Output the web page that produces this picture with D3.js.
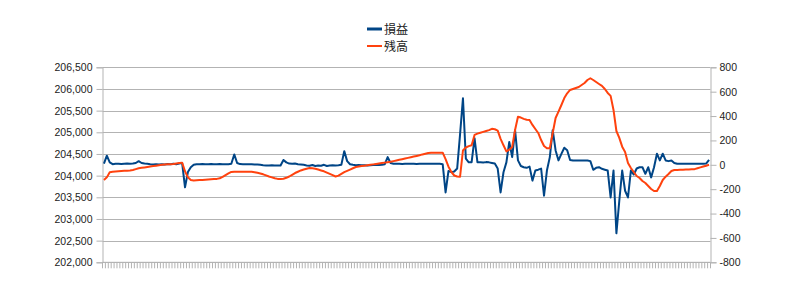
<!DOCTYPE html>
<html>
<head>
<meta charset="utf-8">
<script src="https://cdn.jsdelivr.net/npm/d3@7"></script>
<style>
  body { margin: 0; background: #fff; }
  svg text { font-family: "Liberation Sans", Arial, sans-serif; }
</style>
</head>
<body>
<div id="chart"></div>
<script>
// 残高 (left axis)
const balance = [
  203900, 203960, 204080, 204090, 204095, 204100, 204105, 204110, 204115, 204120, 204130, 204150, 204170, 204180,
  204190, 204200, 204210, 204220, 204230, 204240, 204250, 204255, 204260, 204265, 204270, 204280, 204290, 204300,
  204100, 203960, 203900, 203890, 203895, 203900, 203900, 203905, 203910, 203915, 203920, 203925,
  203940, 203970, 204010, 204050, 204085, 204091, 204091, 204092, 204090, 204092, 204091, 204090,
  204080, 204065, 204050, 204030, 204005, 203980, 203960, 203940, 203925, 203920, 203930,
  203950, 203980, 204020, 204060, 204090, 204120, 204140, 204160, 204175, 204170,
  204160, 204140, 204120, 204100, 204070, 204040, 204010, 203980, 204000, 204040, 204080, 204110, 204140, 204170, 204200,
  204210, 204220, 204230, 204240, 204250, 204260, 204270, 204280, 204290, 204300, 204310, 204320,
  204335, 204350, 204365, 204380, 204395, 204410, 204425, 204440, 204455, 204470, 204490, 204505, 204520, 204530,
  204530, 204530, 204530, 204530,
  204380, 204206, 204084, 204003, 203980, 203976, 204580, 204650, 204680, 204700,
  204940, 204970, 204990, 205010, 205030, 205050, 205080, 205070, 205040,
  204850, 204700, 204560, 204600, 204660, 205053, 205360, 205340, 205310, 205290, 205284, 205170, 205076, 204984,
  204822, 204684, 204631, 204631, 204984, 205330,
  205476, 205630, 205790, 205900, 205977, 206000, 206023, 206046, 206092, 206138, 206207, 206247, 206207, 206160,
  206115, 206070, 206000, 205908,
  205840, 205515, 205030, 204870, 204668, 204546, 204292, 204176, 204084, 203992, 203946, 203876, 203830, 203761,
  203692, 203645, 203645, 203761, 203899, 203976, 204038, 204107, 204130,
  204130, 204135, 204135, 204140, 204140, 204145, 204150, 204170, 204190, 204210, 204230, 204250
];

// 損益 (right axis)
const profit = [
  10, 75, 20, 5, 8, 8, 6, 8, 10, 8, 10, 15, 30, 15, 10, 8, 5, 3, 5, 2, 5, 3, 6, 4, 8, 5, 10, 15,
  -185, -60, -20, 0, 5, 5, 6, 5, 4, 6, 5, 5, 6, 5, 4, 5, 8,
  85, 15, 6, 5, 4, 5, 5, 3, 2, 0, -3, -5, -5, -4, -5, -6, -5,
  40, 20, 10, 8, 10, 5, 3, 0, -5, -8, -2, -10, -5, -8, 0, -10, -6, -4, -5, -3, 0,
  112, 30, 5, 0, -3, -2, -3, -4, -5, -3, -2, 0, -2, 0, 5, 63, 15,
  8, 8, 8, 7, 8, 8, 8, 8, 7, 8, 8, 8, 8, 8, 8, 8, 8, 5,
  -227, -50, -60, -55, -31, 250, 546, 50, 20, 21, 218, 21,
  20, 18, 22, 20, 15, 10, -31, -227, -61, 20, 187, 63, 284, 36, -10, -20, -25, -15, -130, -47, -40, -31, -254, -47,
  63, 284, 118,
  36, 90, 140, 120, 40, 36, 36, 36, 35, 36, 36, 30, -41, -25, -20, -33, -40, -47,
  -268, -47, -562, -295, -47, -213, -268, -47, -80, -30, -20, -20, -74, -20, -103, -20, 91, 36, 91, 36, 30, 36, 15,
  8, 8, 8, 8, 8, 8, 8, 8, 8, 8, 10, 40
];

const leftTicks = [202000, 202500, 203000, 203500, 204000, 204500, 205000, 205500, 206000, 206500];
const rightTicks = [-800, -600, -400, -200, 0, 200, 400, 600, 800];
const seriesNames = ['損益', '残高'];
const colors = ['#004586', '#ff420e'];

const width = 808, height = 300;
const plot = { left: 102.5, right: 710.5, top: 67.3, bottom: 262.3 };

const svg = d3.select('#chart').append('svg')
  .attr('width', width)
  .attr('height', height);

const idx = d3.range(balance.length);
const x = d3.scaleBand().domain(idx).range([plot.left, plot.right]);
const yL = d3.scaleLinear().domain([202000, 206500]).range([plot.bottom, plot.top]);
const yR = d3.scaleLinear().domain([-800, 800]).range([plot.bottom, plot.top]);

// grid
svg.append('g')
  .selectAll('line')
  .data(leftTicks)
  .join('line')
  .attr('x1', plot.left).attr('x2', plot.right)
  .attr('y1', d => Math.round(yL(d)) + 0.5).attr('y2', d => Math.round(yL(d)) + 0.5)
  .attr('stroke', '#b3b3b3');

// left axis
const axL = svg.append('g')
  .attr('transform', `translate(${plot.left},0)`)
  .call(d3.axisLeft(yL).tickValues(leftTicks).tickFormat(d3.format(',')).tickSize(6).tickPadding(4));

// right axis
const axR = svg.append('g')
  .attr('transform', `translate(${plot.right},0)`)
  .call(d3.axisRight(yR).tickValues(rightTicks).tickFormat(d => String(d)).tickSize(6).tickPadding(3));

[axL, axR].forEach(g => {
  g.select('.domain').attr('stroke', '#b3b3b3');
  g.selectAll('.tick line').attr('stroke', '#b3b3b3');
  g.selectAll('.tick text')
    .attr('fill', '#222')
    .style('font-size', '10.5px')
    .style('font-family', '"Liberation Sans", Arial, sans-serif');
});

// category axis (ticks between categories, no labels)
const xAxis = svg.append('g');
xAxis.append('line')
  .attr('x1', plot.left).attr('x2', plot.right)
  .attr('y1', plot.bottom).attr('y2', plot.bottom)
  .attr('stroke', '#b3b3b3');
xAxis.selectAll('line.tk')
  .data(idx.concat([balance.length]))
  .join('line')
  .attr('class', 'tk')
  .attr('x1', d => d < balance.length ? x(d) : plot.right)
  .attr('x2', d => d < balance.length ? x(d) : plot.right)
  .attr('y1', plot.bottom).attr('y2', plot.bottom + 6)
  .attr('stroke', '#b3b3b3');

const cx = i => x(i) + x.bandwidth() / 2;

svg.append('path')
  .datum(profit)
  .attr('fill', 'none')
  .attr('stroke', colors[0])
  .attr('stroke-width', 2)
  .attr('stroke-linejoin', 'round')
  .attr('d', d3.line().x((d, i) => cx(i)).y(d => yR(d)));

svg.append('path')
  .datum(balance)
  .attr('fill', 'none')
  .attr('stroke', colors[1])
  .attr('stroke-width', 2)
  .attr('stroke-linejoin', 'round')
  .attr('d', d3.line().x((d, i) => cx(i)).y(d => yL(d)));

// legend
const legend = svg.append('g');
seriesNames.forEach((name, i) => {
  const ly = 29 + i * 17;
  legend.append('line')
    .attr('x1', 367).attr('x2', 382)
    .attr('y1', ly).attr('y2', ly)
    .attr('stroke', colors[i])
    .attr('stroke-width', i === 0 ? 3 : 2);
  legend.append('text')
    .attr('x', 384).attr('y', ly + 5)
    .attr('fill', '#222')
    .style('font-size', '12px')
    .style('font-family', '"Noto Sans CJK JP", sans-serif')
    .text(name);
});
</script>
</body>
</html>
